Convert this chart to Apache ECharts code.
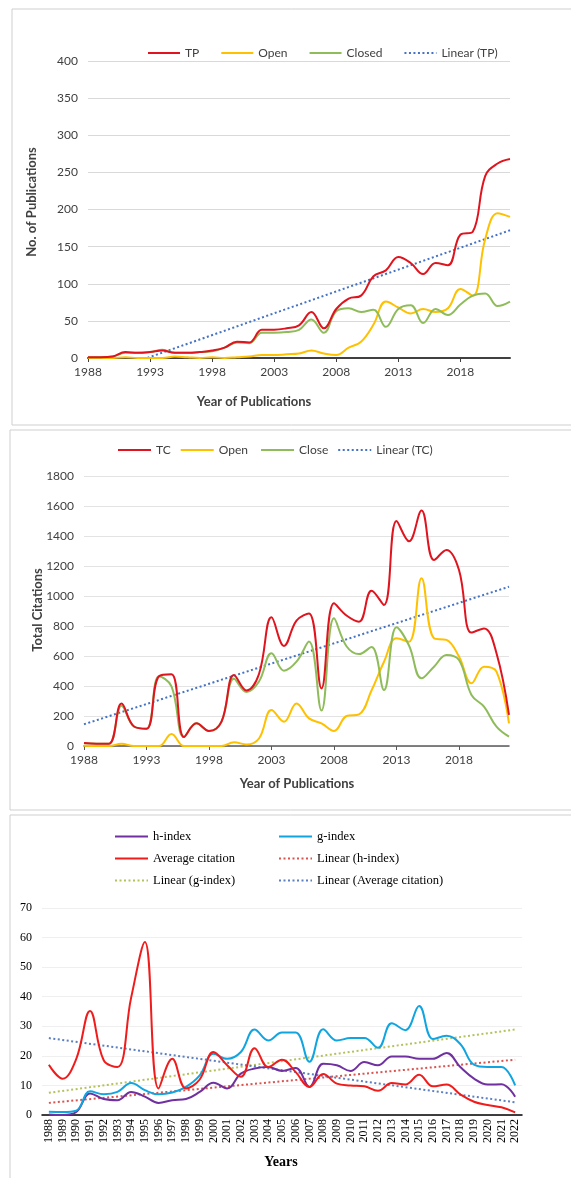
<!DOCTYPE html>
<html>
<head>
<meta charset="utf-8">
<script src="https://cdn.jsdelivr.net/npm/echarts@6/dist/echarts.min.js"></script>
<style>
  html, body { margin: 0; padding: 0; background: #fff; }
  #chart { width: 571px; height: 1182px; }
</style>
</head>
<body>
<div id="chart"></div>
<script>
// 年份
const years = ['1988','1989','1990','1991','1992','1993','1994','1995','1996','1997','1998','1999','2000','2001','2002','2003','2004','2005','2006','2007','2008','2009','2010','2011','2012','2013','2014','2015','2016','2017','2018','2019','2020','2021','2022'];

// 图1 发文量
const tpValues     = [1,1,2,8,7,8,10,7,7,8,10,14,22,21,38,38,40,44,62,40,66,80,84,110,118,136,128,113,128,125,166,170,245,262,268];
const openValues   = [0,0,0,1,0,0,0,2,1,0,1,0,1,2,4,4,5,6,10,6,4,14,22,45,76,68,60,66,62,67,93,84,160,195,190];
const closedValues = [1,1,2,7,7,8,11,7,7,8,9,14,21,20,34,34,35,38,52,34,63,67,62,65,42,66,71,47,66,58,72,84,87,70,76];
const tpTrend      = [-28, 172]; // 1988 / 2022 端点

// 图2 总被引
const tcValues     = [20,15,15,283,130,115,465,478,60,151,100,162,473,370,480,858,667,836,884,384,951,870,829,1035,940,1500,1365,1570,1240,1307,1173,756,784,618,207];
const openCite     = [2,0,0,15,0,0,0,80,0,0,0,0,25,10,50,240,162,284,184,151,100,200,211,370,562,718,695,1118,718,707,596,418,529,496,151];
const closeCite    = [18,15,15,268,130,115,465,398,60,151,100,162,448,360,430,618,502,562,696,236,851,665,613,660,373,791,670,451,529,607,573,340,262,129,62];
const tcTrend      = [145, 1062];

// 图3 指数
const hIndex  = [0.2,0,1,7.3,5.4,5,7.8,6.2,4.1,5,5.4,7.8,10.9,9,14,15.7,16.2,14.9,15.9,9.5,17.3,16.8,14.9,17.9,16.8,19.8,19.8,19,19,21,16.2,12.3,10.3,10.4,6.2];
const gIndex  = [1.1,1,1.5,8,7,7.8,10.8,8.4,7,7.6,9.5,13.4,20.7,19,21.3,28.9,25.2,27.9,27.9,18,29,25.2,26,26,22.7,31,28.7,36.9,25.7,26.8,24,17,16.2,16.2,10];
const avgCite = [17,12.3,19,35.2,18.5,16.2,39.7,58.5,9,19,9,12,21.3,16.8,12.9,22.6,16.2,18.7,14.5,9.5,13.9,10.6,10,9.7,8.2,10.8,10.3,13.6,9.7,10.3,7,4.5,3.4,2.6,0.9];
const hTrend   = [4.1, 18.7];
const gTrend   = [7.5, 28.9];
const avgTrend = [26, 4.3];

const SANS = 'Lato';
const SERIF = 'Liberation Serif';

function trendData(pair) {
    return [[years[0], pair[0]], [years[years.length - 1], pair[1]]];
}

function curve(name, data, color, xi) {
    return {
        name: name, type: 'line', xAxisIndex: xi, yAxisIndex: xi,
        data: data, smooth: 0.4, symbol: 'none',
        lineStyle: { color: color, width: 2 }, itemStyle: { color: color }
    };
}

function trend(name, pair, color, xi) {
    return {
        name: name, type: 'line', xAxisIndex: xi, yAxisIndex: xi,
        data: trendData(pair), symbol: 'none', clip: true,
        lineStyle: { color: color, width: 2, type: [2, 2.5] }, itemStyle: { color: color }
    };
}

// 图例只画线，不画圆点
function legendBase(extra) {
    return Object.assign({
        padding: 0, itemWidth: 33, itemHeight: 14,
        itemStyle: { opacity: 0 }
    }, extra);
}

const chart = echarts.init(document.getElementById('chart'));

const option = {
    animation: false,
    backgroundColor: '#fff',
    grid: [
        { left: 88, right: 61, top: 61, height: 297 },
        { left: 84, right: 62, top: 476, height: 270 },
        { left: 42, right: 49, top: 908, height: 207 }
    ],
    legend: [
        legendBase({
            data: ['TP', 'Open', 'Closed', 'Linear (TP)'],
            left: 147, top: 47, itemWidth: 32, itemGap: 21,
            textStyle: { fontFamily: SANS, fontSize: 12, color: '#404040' }
        }),
        legendBase({
            data: ['TC', 'Open ', 'Close', 'Linear (TC)'],
            left: 117, top: 444, itemGap: 9,
            textStyle: { fontFamily: SANS, fontSize: 12, color: '#404040' }
        }),
        legendBase({
            data: ['h-index', 'Average citation', 'Linear (g-index)'],
            orient: 'vertical', left: 114, top: 830, itemGap: 9,
            textStyle: { fontFamily: SERIF, fontSize: 12.5, color: '#000' }
        }),
        legendBase({
            data: ['g-index', 'Linear (h-index)', 'Linear (Average citation)'],
            orient: 'vertical', left: 278, top: 830, itemGap: 9,
            textStyle: { fontFamily: SERIF, fontSize: 12.5, color: '#000' }
        })
    ],
    xAxis: [
        {
            type: 'category', gridIndex: 0, data: years, boundaryGap: false,
            axisLine: { lineStyle: { color: '#404040', width: 2 } },
            axisTick: { interval: 4, length: 4, lineStyle: { color: '#404040' } },
            axisLabel: { interval: 4, fontFamily: SANS, fontSize: 12, color: '#404040', margin: 8 },
            splitLine: { show: false }
        },
        {
            type: 'category', gridIndex: 1, data: years, boundaryGap: false,
            axisLine: { lineStyle: { color: '#595959', width: 1.5 } },
            axisTick: { interval: 4, length: 4, lineStyle: { color: '#595959' } },
            axisLabel: { interval: 4, fontFamily: SANS, fontSize: 12, color: '#404040', margin: 8 },
            splitLine: { show: false }
        },
        {
            type: 'category', gridIndex: 2, data: years, boundaryGap: true,
            axisLine: { lineStyle: { color: '#000', width: 1.5 } },
            axisTick: { interval: 0, length: 4, lineStyle: { color: '#000' } },
            axisLabel: { interval: 0, rotate: 90, fontFamily: SERIF, fontSize: 12, color: '#000', margin: 4 },
            splitLine: { show: false }
        }
    ],
    yAxis: [
        {
            type: 'value', gridIndex: 0, min: 0, max: 400, interval: 50,
            axisLine: { show: false }, axisTick: { show: false },
            axisLabel: { fontFamily: SANS, fontSize: 12, color: '#404040', margin: 10, formatter: v => String(v) },
            splitLine: { lineStyle: { color: '#d9d9d9', width: 1 } }
        },
        {
            type: 'value', gridIndex: 1, min: 0, max: 1800, interval: 200,
            axisLine: { show: false }, axisTick: { show: false },
            axisLabel: { fontFamily: SANS, fontSize: 12, color: '#404040', margin: 10, formatter: v => String(v) },
            splitLine: { lineStyle: { color: '#e3e3e3', width: 1 } }
        },
        {
            type: 'value', gridIndex: 2, min: 0, max: 70, interval: 10,
            axisLine: { show: false }, axisTick: { show: false },
            axisLabel: { fontFamily: SERIF, fontSize: 12, color: '#000', margin: 10, formatter: v => String(v) },
            splitLine: { lineStyle: { color: '#efefef', width: 1 } }
        }
    ],
    series: [
        trend('Linear (TP)', tpTrend, '#4472c4', 0),
        curve('Open', openValues, '#ffc000', 0),
        curve('Closed', closedValues, '#8fbc5a', 0),
        curve('TP', tpValues, '#e0141e', 0),

        trend('Linear (TC)', tcTrend, '#4472c4', 1),
        curve('Open ', openCite, '#ffc000', 1),
        curve('Close', closeCite, '#8fbc5a', 1),
        curve('TC', tcValues, '#e0141e', 1),

        trend('Linear (h-index)', hTrend, '#d9534f', 2),
        trend('Linear (g-index)', gTrend, '#b5c25c', 2),
        trend('Linear (Average citation)', avgTrend, '#5b7fc0', 2),
        curve('h-index', hIndex, '#7030a0', 2),
        curve('g-index', gIndex, '#10a5e0', 2),
        curve('Average citation', avgCite, '#f01c1c', 2)
    ],
    graphic: [
        // 外框
        { type: 'polyline', shape: { points: [[12, 425], [12, 9], [571, 9]] }, style: { stroke: '#cfcfcf', lineWidth: 1, fill: null } },
        { type: 'line', shape: { x1: 12, y1: 425, x2: 571, y2: 425 }, style: { stroke: '#cfcfcf', lineWidth: 1 } },
        { type: 'polyline', shape: { points: [[10, 810], [10, 430], [571, 430]] }, style: { stroke: '#cfcfcf', lineWidth: 1, fill: null } },
        { type: 'line', shape: { x1: 10, y1: 810, x2: 571, y2: 810 }, style: { stroke: '#cfcfcf', lineWidth: 1 } },
        { type: 'polyline', shape: { points: [[10, 1178], [10, 815], [571, 815]] }, style: { stroke: '#cfcfcf', lineWidth: 1, fill: null } },
        // 坐标轴标题
        { type: 'text', x: 32, y: 202, rotation: Math.PI / 2,
          style: { text: 'No. of Publications', fontFamily: SANS, fontSize: 13, fontWeight: 'bold', fill: '#404040', align: 'center', verticalAlign: 'middle' } },
        { type: 'text', x: 254, y: 402,
          style: { text: 'Year of Publications', fontFamily: SANS, fontSize: 13, fontWeight: 'bold', fill: '#404040', align: 'center', verticalAlign: 'middle' } },
        { type: 'text', x: 38, y: 610, rotation: Math.PI / 2,
          style: { text: 'Total Citations', fontFamily: SANS, fontSize: 13, fontWeight: 'bold', fill: '#404040', align: 'center', verticalAlign: 'middle' } },
        { type: 'text', x: 297, y: 784,
          style: { text: 'Year of Publications', fontFamily: SANS, fontSize: 13, fontWeight: 'bold', fill: '#404040', align: 'center', verticalAlign: 'middle' } },
        { type: 'text', x: 281, y: 1162,
          style: { text: 'Years', fontFamily: SERIF, fontSize: 14, fontWeight: 'bold', fill: '#000', align: 'center', verticalAlign: 'middle' } }
    ]
};

chart.setOption(option);
</script>
</body>
</html>
